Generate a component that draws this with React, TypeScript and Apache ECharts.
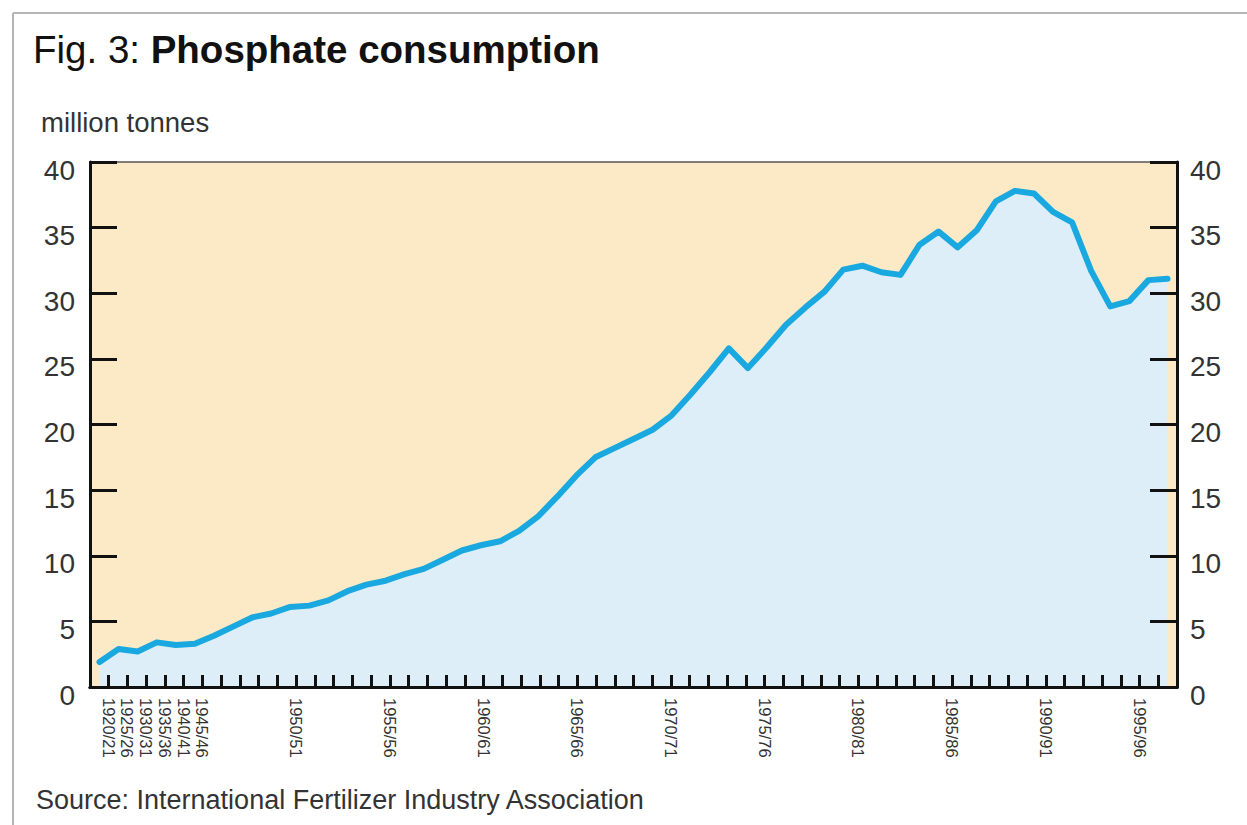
import React, { useEffect, useRef } from 'react';
import * as echarts from 'echarts';

const seasons: string[] = [
  '1920/21', '1925/26', '1930/31', '1935/36', '1940/41', '1945/46',
  '1946/47', '1947/48', '1948/49', '1949/50', '1950/51', '1951/52', '1952/53', '1953/54', '1954/55',
  '1955/56', '1956/57', '1957/58', '1958/59', '1959/60', '1960/61', '1961/62', '1962/63', '1963/64', '1964/65',
  '1965/66', '1966/67', '1967/68', '1968/69', '1969/70', '1970/71', '1971/72', '1972/73', '1973/74', '1974/75',
  '1975/76', '1976/77', '1977/78', '1978/79', '1979/80', '1980/81', '1981/82', '1982/83', '1983/84', '1984/85',
  '1985/86', '1986/87', '1987/88', '1988/89', '1989/90', '1990/91', '1991/92', '1992/93', '1993/94', '1994/95',
  '1995/96', '1996/97',
];

// million tonnes
const phosphate: number[] = [
  1.9, 2.9, 2.7, 3.4, 3.2, 3.3,
  3.9, 4.6, 5.3, 5.6, 6.1, 6.2, 6.6, 7.3, 7.8,
  8.1, 8.6, 9.0, 9.7, 10.4, 10.8, 11.1, 11.9, 13.0, 14.5,
  16.1, 17.5, 18.2, 18.9, 19.6, 20.7, 22.3, 24.0, 25.8, 24.3,
  25.9, 27.6, 28.9, 30.1, 31.8, 32.1, 31.6, 31.4, 33.7, 34.7,
  33.5, 34.8, 37.0, 37.8, 37.6, 36.2, 35.4, 31.7, 29.0, 29.4,
  31.0, 31.1,
];

const yMin = 0;
const yMax = 40;
const yStep = 5;

const titlePrefix = 'Fig. 3: ';
const titleMain = 'Phosphate consumption';
const unitLabel = 'million tonnes';
const sourceText = 'Source: International Fertilizer Industry Association';

export default function App() {
  const ref = useRef<HTMLDivElement>(null);

  useEffect(() => {
    if (!ref.current) return;
    const chart = echarts.init(ref.current, null, { renderer: 'svg' });
    const font = "'Liberation Sans', Arial, Helvetica, sans-serif";
    const ink = '#111111';
    const labelInk = '#333333';

    // tick/label axis: one position per season boundary plus the two frame edges
    const tickPositions = ['', ...seasons, ''];
    const showLabel = (i: number) => {
      const k = i - 1;
      if (k < 0 || k >= seasons.length) return false;
      return k <= 5 || (k - 5) % 5 === 0;
    };

    const yAxisBase = (position: 'left' | 'right') => ({
      type: 'value',
      min: yMin,
      max: yMax,
      interval: yStep,
      position,
      z: 5,
      axisLine: { show: true, lineStyle: { color: ink, width: 3 } },
      axisTick: { show: true, inside: true, length: 27, lineStyle: { color: ink, width: 3 } },
      axisLabel: {
        show: true,
        fontSize: 28,
        fontFamily: font,
        color: labelInk,
        margin: position === 'left' ? 15 : 13,
        verticalAlign: 'top',
        lineHeight: 16,
      },
      splitLine: { show: false },
    });

    chart.setOption({
      animation: false,
      backgroundColor: '#ffffff',
      grid: {
        left: 90,
        right: 70,
        top: 162,
        bottom: 138,
        show: true,
        backgroundColor: '#FCEAC6',
        borderColor: '#555555',
        borderWidth: 1.5,
      },
      xAxis: [
        {
          type: 'category',
          data: seasons,
          boundaryGap: true,
          position: 'bottom',
          z: 5,
          axisLine: { show: true, lineStyle: { color: ink, width: 3 } },
          axisTick: { show: false },
          axisLabel: { show: false },
          splitLine: { show: false },
        },
        {
          type: 'category',
          data: tickPositions,
          boundaryGap: false,
          position: 'bottom',
          z: 6,
          axisLine: { show: true, lineStyle: { color: ink, width: 3 } },
          axisTick: { show: true, inside: true, length: 12, interval: 0, lineStyle: { color: ink, width: 3 } },
          axisLabel: {
            show: true,
            interval: (i: number) => showLabel(i),
            rotate: -90,
            margin: 11,
            fontSize: 16.5,
            fontFamily: font,
            color: labelInk,
          },
          splitLine: { show: false },
        },
      ],
      yAxis: [yAxisBase('left'), yAxisBase('right')],
      series: [
        {
          type: 'line',
          xAxisIndex: 0,
          yAxisIndex: 0,
          data: phosphate,
          symbol: 'none',
          smooth: false,
          lineStyle: { color: '#19A8DF', width: 6, join: 'round', cap: 'round' },
          areaStyle: { color: '#DDEEF9', opacity: 1 },
          z: 2,
        },
      ],
      graphic: [
        {
          type: 'line',
          shape: { x1: 13, y1: 13, x2: 1247, y2: 13 },
          style: { stroke: '#b5b5b5', lineWidth: 2 },
        },
        {
          type: 'line',
          shape: { x1: 13, y1: 13, x2: 13, y2: 825 },
          style: { stroke: '#b5b5b5', lineWidth: 2 },
        },
        {
          type: 'text',
          x: 33,
          y: 49,
          style: {
            text: `{a|${titlePrefix}}{b|${titleMain}}`,
            verticalAlign: 'middle',
            rich: {
              a: { fontSize: 38.5, fontFamily: font, fill: ink },
              b: { fontSize: 38.5, fontFamily: font, fontWeight: 'bold', fill: ink },
            },
          },
        },
        {
          type: 'text',
          x: 41,
          y: 122,
          style: {
            text: unitLabel,
            fontSize: 27.5,
            fontFamily: font,
            fill: labelInk,
            verticalAlign: 'middle',
          },
        },
        {
          type: 'text',
          x: 36,
          y: 800,
          style: {
            text: sourceText,
            fontSize: 27,
            fontFamily: font,
            fill: labelInk,
            verticalAlign: 'middle',
          },
        },
      ],
    });

    return () => chart.dispose();
  }, []);

  return (
    <div
      ref={ref}
      style={{ position: 'absolute', left: 0, top: 0, width: 1247, height: 825 }}
    />
  );
}
